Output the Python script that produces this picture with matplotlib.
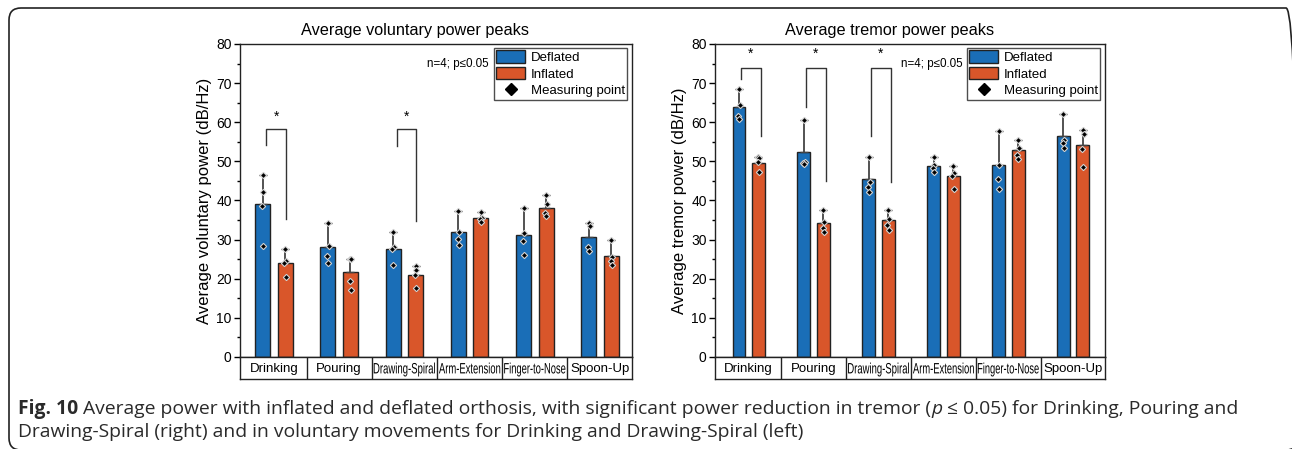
import matplotlib
matplotlib.use("Agg")
import matplotlib.pyplot as plt
from matplotlib.patches import Patch, FancyBboxPatch, PathPatch
from matplotlib.lines import Line2D
from matplotlib.textpath import TextPath
from matplotlib.font_manager import FontProperties
from matplotlib.transforms import Affine2D, IdentityTransform
import numpy as np

plt.rcParams['font.family'] = ['Liberation Sans', 'DejaVu Sans']

categories = ["Drinking", "Pouring", "Drawing-Spiral", "Arm-Extension", "Finger-to-Nose", "Spoon-Up"]
narrow_labels = ["Drawing-Spiral", "Arm-Extension", "Finger-to-Nose"]

# voluntary power peaks (dB/Hz)
vol_def_mean = [39.0, 28.1, 27.7, 32.0, 31.3, 30.7]
vol_def_err = [7.4, 6.2, 4.2, 5.4, 6.9, 3.6]
vol_def_pts = [[46.4, 42.3, 38.6, 28.4], [34.3, 28.4, 25.8, 23.9], [31.9, 28.0, 27.5, 23.6],
               [37.4, 31.9, 30.1, 28.5], [38.2, 31.7, 29.6, 26.0], [34.3, 33.4, 28.2, 27.2]]
vol_inf_mean = [24.1, 21.6, 21.0, 35.6, 38.2, 25.8]
vol_inf_err = [3.5, 3.5, 2.3, 1.4, 3.1, 4.0]
vol_inf_pts = [[27.6, 24.6, 24.0, 20.4], [25.1, 25.0, 19.3, 17.2], [23.3, 22.2, 20.9, 17.7],
               [37.0, 35.4, 35.2, 34.6], [41.3, 39.2, 36.7, 36.0], [29.8, 25.5, 24.6, 23.4]]

# tremor power peaks (dB/Hz)
trem_def_mean = [63.8, 52.3, 45.4, 48.9, 49.0, 56.5]
trem_def_err = [4.8, 8.2, 5.6, 2.2, 8.7, 5.5]
trem_def_pts = [[68.6, 64.5, 61.5, 60.9], [60.5, 49.8, 49.6, 49.4], [51.0, 44.8, 43.5, 42.1],
                [51.1, 49.0, 48.2, 47.2], [57.7, 49.0, 45.6, 42.9], [62.0, 55.5, 54.6, 53.4]]
trem_inf_mean = [49.5, 34.3, 34.9, 46.3, 52.8, 54.3]
trem_inf_err = [1.7, 3.2, 2.6, 2.4, 2.7, 3.8]
trem_inf_pts = [[51.2, 50.8, 49.8, 47.2], [37.5, 34.6, 33.0, 31.9], [37.5, 35.3, 33.8, 32.5],
                [48.7, 47.0, 46.2, 42.9], [55.5, 53.3, 51.6, 50.6], [58.1, 57.0, 53.2, 48.6]]

# significance brackets: category index, left bottom, top, right bottom, star height
vol_sig = [(0, 54.2, 58.4, 35.2, 61.4), (2, 53.9, 58.3, 34.8, 61.4)]
trem_sig = [(0, 71.0, 73.9, 56.5, 77.4), (1, 63.8, 73.9, 45.0, 77.4), (2, 56.6, 73.8, 44.8, 77.4)]

BLUE = '#1a6eb7'
ORANGE = '#d9562a'
EDGE = '#222222'

W, H = 1292, 449
fig = plt.figure(figsize=(W / 100, H / 100), dpi=100)


def px_axes(x0, x1, ytop, ybot):
    return [x0 / W, 1 - ybot / H, (x1 - x0) / W, (ybot - ytop) / H]


def narrow_text(ax, x, y, s, size_px, max_w):
    # squeeze a label horizontally so it fits inside its cell
    tp = TextPath((0, 0), s, size=size_px, prop=FontProperties(family='Liberation Sans'))
    ext = tp.get_extents()
    sx = min(1.0, max_w / ext.width)
    cx, cy = ext.x0 + ext.width / 2, 0.36 * size_px
    X, Y = ax.transData.transform((x, y))
    tr = Affine2D().translate(-cx, -cy).scale(sx, 1.0).translate(X, Y)
    fig.patches.append(PathPatch(tp, transform=tr, facecolor='black', edgecolor='none'))


def draw_panel(x0, x1, title, title_x, ylabel, dm, de, dp, im, ie, ip, sig, off, bw):
    ax = fig.add_axes(px_axes(x0, x1, 44, 357))
    x = np.arange(len(categories))
    jitter = [0.0, 0.012, -0.012, 0.006]

    for means, errs, pts, color, sgn in [(dm, de, dp, BLUE, -1), (im, ie, ip, ORANGE, 1)]:
        xs = x + sgn * off
        ax.bar(xs, means, width=bw, color=color, edgecolor=EDGE, linewidth=1.0, zorder=2)
        ax.errorbar(xs, means, yerr=[np.zeros(len(errs)), errs], fmt='none',
                    ecolor='#444444', elinewidth=1.3, capsize=3, capthick=1.0, zorder=3)
        for xi, p in zip(xs, pts):
            ax.plot(xi + np.array(jitter[:len(p)]), p, linestyle='none', marker='D',
                    markersize=3.2, markerfacecolor='black', markeredgecolor='#d0d0d0',
                    markeredgewidth=0.8, zorder=4)

    for i, lb, top, rb, star in sig:
        xa, xb = i - 0.12, i + 0.185
        ax.plot([xa, xa, xb, xb], [lb, top, top, rb], color='#333333', lw=1.0, zorder=3)
        ax.text((xa + xb) / 2, star, '*', ha='center', va='center', fontsize=10)

    ax.set_xlim(-0.52, 5.49)
    ax.set_ylim(0, 80)
    ax.set_xticks([])
    ax.set_yticks(np.arange(0, 81, 10))
    ax.set_yticks(np.arange(0, 81, 5), minor=True)
    ax.tick_params(axis='y', which='major', length=4, width=1.0, labelsize=10, pad=2)
    ax.tick_params(axis='y', which='minor', length=2.5, width=1.0)
    for s in ax.spines.values():
        s.set_linewidth(1.0)
        s.set_color(EDGE)
    ax.set_ylabel(ylabel, fontsize=12, labelpad=3)

    ax.text(0.634, 0.935, 'n=4; p\u22640.05', transform=ax.transAxes, ha='right', va='center',
            fontsize=8.4)
    handles = [Patch(facecolor=BLUE, edgecolor=EDGE, label='Deflated'),
               Patch(facecolor=ORANGE, edgecolor=EDGE, label='Inflated'),
               Line2D([], [], linestyle='none', marker='D', markersize=6, color='black',
                      label='Measuring point')]
    leg = ax.legend(handles=handles, loc='upper right', bbox_to_anchor=(0.988, 0.988),
                    fontsize=9.5, frameon=True, fancybox=False, edgecolor=EDGE,
                    handlelength=2.2, handleheight=1.05, labelspacing=0.22, borderpad=0.2,
                    handletextpad=0.4, borderaxespad=0.0)
    leg.get_frame().set_linewidth(1.0)

    # category strip under the axis
    strip = fig.add_axes(px_axes(x0, x1, 357, 379), sharex=ax)
    strip.set_ylim(0, 1)
    strip.set_xticks([])
    strip.set_yticks([])
    for s in strip.spines.values():
        s.set_linewidth(1.0)
        s.set_color(EDGE)
    for k in range(len(categories) - 1):
        strip.axvline(k + 0.5, color=EDGE, lw=1.0)
    cell_px = (x1 - x0) / 6.01
    for k, name in enumerate(categories):
        if name in narrow_labels:
            narrow_text(strip, k, 0.5, name, 15.0, cell_px - 4)
        else:
            strip.text(k, 0.47, name, ha='center', va='center', fontsize=9.5)

    fig.text(title_x / W, 1 - 31 / H, title, ha='center', va='center', fontsize=11.7)
    return ax


draw_panel(240, 632, 'Average voluntary power peaks', 415, 'Average voluntary power (dB/Hz)',
           vol_def_mean, vol_def_err, vol_def_pts, vol_inf_mean, vol_inf_err, vol_inf_pts,
           vol_sig, 0.173, 0.23)
draw_panel(715, 1105, 'Average tremor power peaks', 890, 'Average tremor power (dB/Hz)',
           trem_def_mean, trem_def_err, trem_def_pts, trem_inf_mean, trem_inf_err, trem_inf_pts,
           trem_sig, 0.15, 0.2)

# rounded frame around the figure (pixel coordinates, origin bottom-left)
frame = FancyBboxPatch((9, -1), 1289, H - 8 + 1,
                       boxstyle='round,pad=0,rounding_size=12',
                       transform=IdentityTransform(), facecolor='none', edgecolor=EDGE,
                       linewidth=1.2)
fig.patches.append(frame)

# caption, written segment by segment so bold and italic parts line up
renderer = fig.canvas.get_renderer()
cap_font = dict(family=['Open Sans', 'DejaVu Sans'], fontsize=13.9, color='#2a2a2a')


def write_line(segments, x_px, y_px):
    x = x_px
    for text, weight, style in segments:
        t = fig.text(x / W, 1 - y_px / H, text, ha='left', va='baseline',
                     fontweight=weight, fontstyle=style, **cap_font)
        bb = t.get_window_extent(renderer=renderer)
        x += bb.width


write_line([("Fig. 10", 'bold', 'normal'),
            (" Average power with inflated and deflated orthosis, with significant power reduction in tremor (",
             'normal', 'normal'),
            ("p", 'normal', 'italic'),
            (" \u2264 0.05) for Drinking, Pouring and", 'normal', 'normal')], 18, 414)
write_line([("Drawing-Spiral (right) and in voluntary movements for Drinking and Drawing-Spiral (left)",
             'normal', 'normal')], 18, 437)

fig.savefig('out.png', dpi=100)
